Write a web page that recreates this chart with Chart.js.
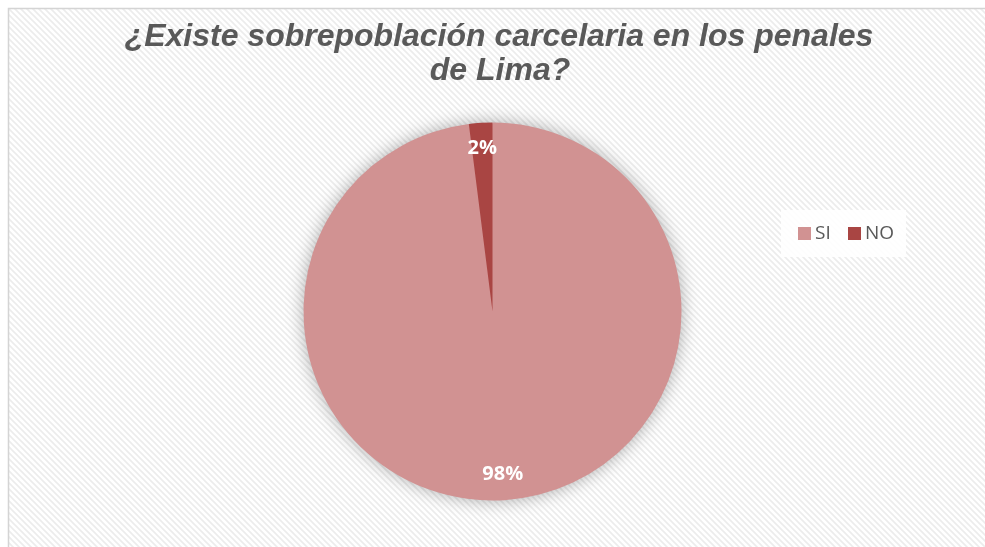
<!DOCTYPE html>
<html>
<head>
<meta charset="utf-8">
<script src="https://cdn.jsdelivr.net/npm/chart.js@4/dist/chart.umd.min.js"></script>
<style>
  html, body { margin: 0; padding: 0; background: #ffffff; }
  #wrap { position: relative; width: 985px; height: 547px; }
</style>
</head>
<body>
<div id="wrap"><canvas id="c" width="985" height="547"></canvas></div>
<script>
const titleLines = ['¿Existe sobrepoblación carcelaria en los penales', 'de Lima?'];
const categories = ['SI', 'NO'];
const values = [98, 2];
const percentLabels = ['98%', '2%'];
const colors = ['#D19292', '#A94543'];

// background pattern
function makePattern(ctx) {
  const p = document.createElement('canvas');
  p.width = 6; p.height = 6;
  const pc = p.getContext('2d');
  pc.fillStyle = '#ffffff';
  pc.fillRect(0, 0, 6, 6);
  pc.strokeStyle = '#ececec';
  pc.lineWidth = 1.6;
  pc.beginPath();
  pc.moveTo(-1, -1); pc.lineTo(7, 7);
  pc.moveTo(-4, 2); pc.lineTo(4, 10);
  pc.moveTo(2, -4); pc.lineTo(10, 4);
  pc.stroke();
  return ctx.createPattern(p, 'repeat');
}

const bgPlugin = {
  id: 'bg',
  beforeDraw(chart) {
    const ctx = chart.ctx;
    ctx.save();
    ctx.fillStyle = '#ffffff';
    ctx.fillRect(0, 0, chart.width, chart.height);
    ctx.fillStyle = makePattern(ctx);
    ctx.fillRect(9, 9, chart.width - 9, chart.height - 9);
    ctx.strokeStyle = '#d4d4d4';
    ctx.lineWidth = 1.5;
    ctx.beginPath();
    ctx.moveTo(8.5, chart.height + 2);
    ctx.lineTo(8.5, 8.5);
    ctx.lineTo(chart.width + 2, 8.5);
    ctx.stroke();
    // title
    ctx.fillStyle = '#595959';
    ctx.font = 'italic bold 32px "Liberation Sans", Arial, sans-serif';
    ctx.textAlign = 'center';
    ctx.textBaseline = 'alphabetic';
    ctx.fillText(titleLines[0], 499, 46);
    ctx.fillText(titleLines[1], 500, 80);
    ctx.restore();
  },
  beforeDatasetsDraw(chart) {
    const arc = chart.getDatasetMeta(0).data[0];
    if (!arc) return;
    const ctx = chart.ctx;
    ctx.save();
    ctx.shadowColor = 'rgba(0,0,0,0.35)';
    ctx.shadowBlur = 18;
    ctx.fillStyle = colors[0];
    ctx.beginPath();
    ctx.arc(arc.x, arc.y, arc.outerRadius - 1, 0, Math.PI * 2);
    ctx.fill();
    ctx.restore();
  },
  afterDatasetsDraw(chart) {
    const ctx = chart.ctx;
    const meta = chart.getDatasetMeta(0);
    ctx.save();
    ctx.fillStyle = '#ffffff';
    ctx.font = 'bold 20px "Open Sans", sans-serif';
    ctx.textAlign = 'center';
    ctx.textBaseline = 'middle';
    meta.data.forEach((a, i) => {
      const mid = (a.startAngle + a.endAngle) / 2;
      const r = a.outerRadius * 0.865;
      ctx.fillText(percentLabels[i], a.x + Math.cos(mid) * r, a.y + Math.sin(mid) * r);
    });
    // legend
    ctx.fillStyle = 'rgba(255,255,255,0.9)';
    ctx.fillRect(781, 210, 125, 47);
    const lx = [798, 848];
    ctx.font = '19px "Open Sans", sans-serif';
    ctx.textAlign = 'left';
    ctx.textBaseline = 'middle';
    categories.forEach((c, i) => {
      ctx.fillStyle = colors[i];
      ctx.fillRect(lx[i], 227, 13, 13);
      ctx.fillStyle = '#595959';
      ctx.fillText(c, lx[i] + 17, 233.5);
    });
    ctx.restore();
  }
};

new Chart(document.getElementById('c'), {
  type: 'pie',
  data: {
    labels: categories,
    datasets: [{
      data: values,
      backgroundColor: colors,
      borderWidth: 0
    }]
  },
  options: {
    responsive: false,
    animation: false,
    layout: { padding: { top: 122.5, bottom: 46.5, left: 0, right: 0 } },
    plugins: {
      legend: { display: false },
      tooltip: { enabled: false },
      title: { display: false }
    }
  },
  plugins: [bgPlugin]
});
</script>
</body>
</html>
